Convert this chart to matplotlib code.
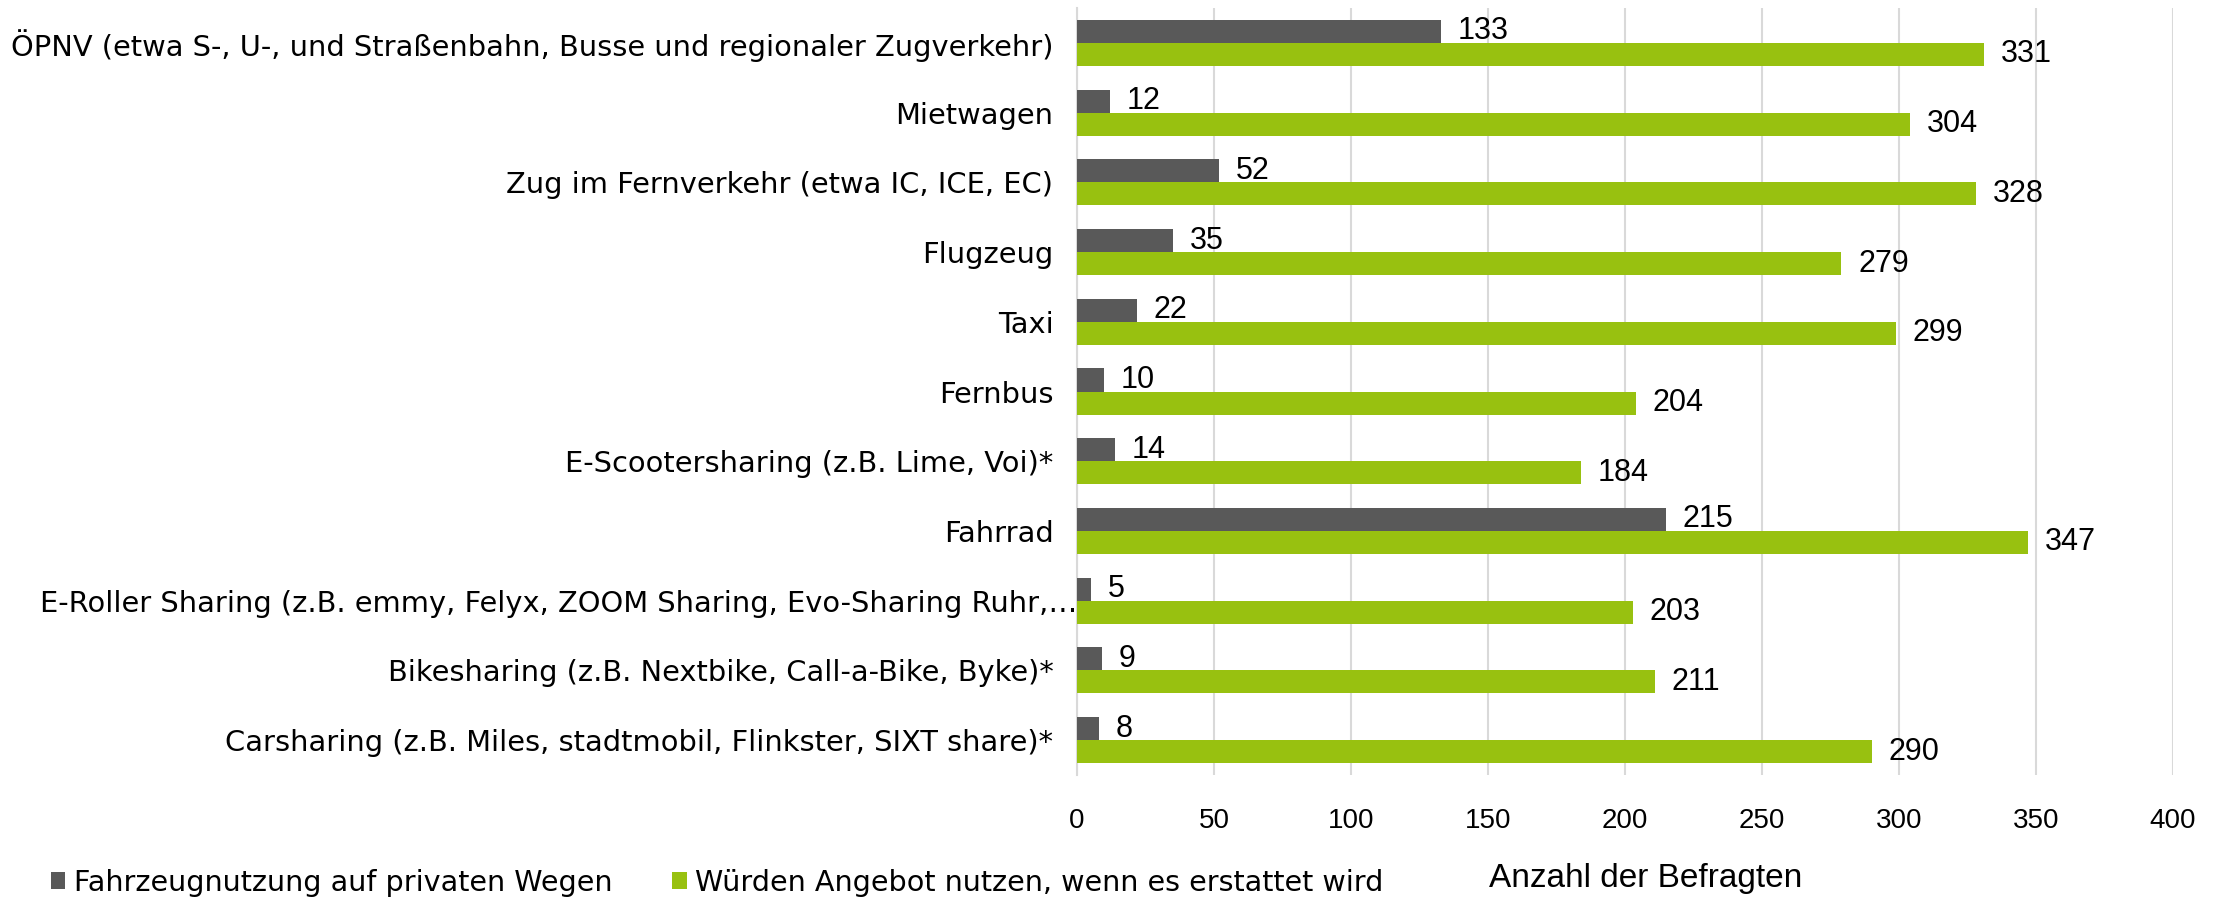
import matplotlib
matplotlib.use("Agg")
import matplotlib.pyplot as plt
import matplotlib.transforms as mtransforms
import numpy as np

categories = [
    "ÖPNV (etwa S-, U-, und Straßenbahn, Busse und regionaler Zugverkehr)",
    "Mietwagen",
    "Zug im Fernverkehr (etwa IC, ICE, EC)",
    "Flugzeug",
    "Taxi",
    "Fernbus",
    "E-Scootersharing (z.B. Lime, Voi)*",
    "Fahrrad",
    "E-Roller Sharing (z.B. emmy, Felyx, ZOOM Sharing, Evo-Sharing Ruhr,…",
    "Bikesharing (z.B. Nextbike, Call-a-Bike, Byke)*",
    "Carsharing (z.B. Miles, stadtmobil, Flinkster, SIXT share)*",
]
privat = [133, 12, 52, 35, 22, 10, 14, 215, 5, 9, 8]
erstattet = [331, 304, 328, 279, 299, 204, 184, 347, 203, 211, 290]
series_names = ["Fahrzeugnutzung auf privaten Wegen",
                "Würden Angebot nutzen, wenn es erstattet wird"]
xticks = [0, 50, 100, 150, 200, 250, 300, 350, 400]

plt.rcParams['font.family'] = ['Liberation Sans', 'DejaVu Sans']
wide_font = ['DejaVu Sans']

W, H = 2228, 900
fig = plt.figure(figsize=(W / 100, H / 100), dpi=100)
left, right, top, bottom = 1077, 2173, 8, 775
ax = fig.add_axes([left / W, 1 - bottom / H, (right - left) / W, (bottom - top) / H])

dark = "#595959"
green = "#98C110"
n = len(categories)
y = np.arange(n)
h = 0.331

b1 = ax.barh(y - h / 2, privat, height=h, color=dark, label=series_names[0], zorder=3)
b2 = ax.barh(y + h / 2, erstattet, height=h, color=green, label=series_names[1], zorder=3)

ax.bar_label(b1, padding=12, fontsize=22, color="black")
ax.bar_label(b2, padding=12, fontsize=22, color="black")

ax.set_ylim(n - 0.5, -0.5)
ax.set_xlim(0, 400)
ax.set_xticks(xticks)
ax.set_xticklabels([str(t) for t in xticks], fontsize=20)
ax.set_yticks(y)
ax.set_yticklabels(categories, fontsize=20.8, family=wide_font)
ax.tick_params(axis='y', length=0, pad=17)
ax.tick_params(axis='x', length=0, pad=24)

for s in ["top", "right", "bottom"]:
    ax.spines[s].set_visible(False)
ax.spines["left"].set_color("#D9D9D9")
ax.spines["left"].set_linewidth(1.5)
ax.grid(axis='x', color="#D9D9D9", linewidth=1.5, zorder=0)
ax.set_axisbelow(True)

# E-Roller label extends to the axis
lab = ax.get_yticklabels()[8]
lab.set_transform(lab.get_transform() + mtransforms.ScaledTranslation(17 / 72, 0, fig.dpi_scale_trans))

leg = fig.legend(handles=[b1, b2], loc="center left",
                 bbox_to_anchor=(51 / W, 1 - 883 / H), ncol=2, frameon=False,
                 prop={'family': wide_font, 'size': 20.6},
                 handlelength=0.5, handleheight=0.55,
                 handletextpad=0.3, columnspacing=2.1, borderpad=0, borderaxespad=0)

fig.text(1646 / W, 1 - 887 / H, "Anzahl der Befragten", ha="center", va="baseline", fontsize=24)

fig.savefig("out.png", dpi=100)
